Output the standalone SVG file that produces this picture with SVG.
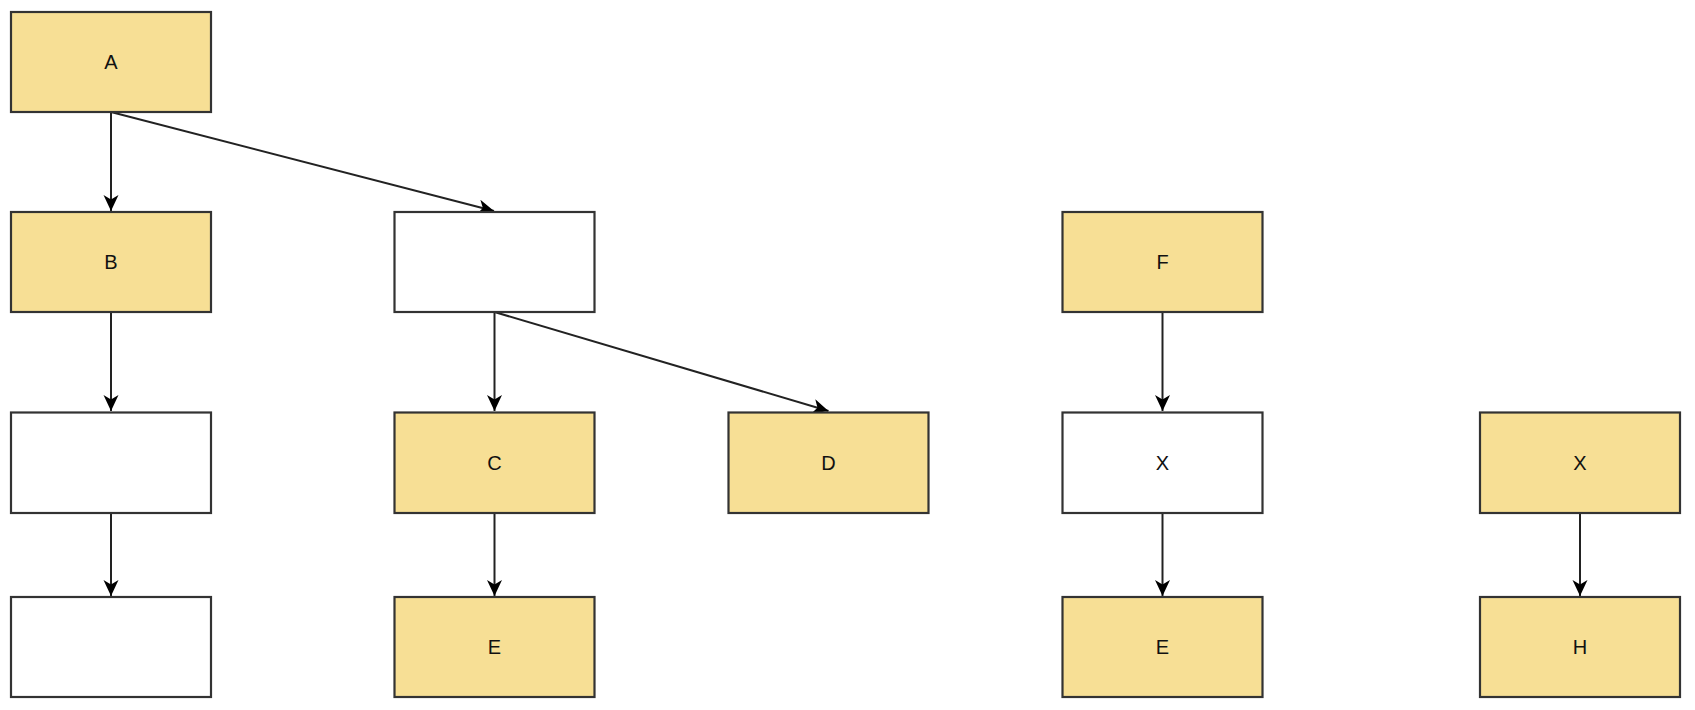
<svg xmlns="http://www.w3.org/2000/svg" width="1695" height="710" viewBox="0 0 1695 710">
<defs>
<marker id="arr" markerWidth="17" markerHeight="16" refX="16" refY="7.5" orient="auto" markerUnits="userSpaceOnUse">
<path d="M0,0 L16,7.5 L0,15 L4.5,7.5 Z" fill="#000"/>
</marker>
<style>
.y{fill:#f7df95;stroke:#333;stroke-width:2.2}
.w{fill:#fff;stroke:#333;stroke-width:2.2}
.t{font-family:"Liberation Sans",Arial,sans-serif;font-size:20px;fill:#111;text-anchor:middle;dominant-baseline:central}
.c{fill:none;stroke:#222;stroke-width:2;marker-end:url(#arr)}
</style>
</defs>
<rect width="1695" height="710" fill="#fff"/>
<g id="connectors">
<line class="c" x1="111" y1="112" x2="111" y2="211"/>
<line class="c" x1="111" y1="112" x2="494" y2="211"/>
<line class="c" x1="111" y1="312" x2="111" y2="411"/>
<line class="c" x1="111" y1="513" x2="111" y2="596"/>
<line class="c" x1="494.5" y1="312" x2="494.5" y2="411"/>
<line class="c" x1="494.5" y1="312" x2="828.5" y2="411"/>
<line class="c" x1="494.5" y1="513" x2="494.5" y2="596"/>
<line class="c" x1="1162.5" y1="312" x2="1162.5" y2="411"/>
<line class="c" x1="1162.5" y1="513" x2="1162.5" y2="596"/>
<line class="c" x1="1580" y1="513" x2="1580" y2="596"/>
</g>
<g id="nA"><rect class="y" x="11" y="12" width="200" height="100"/><text class="t" x="111" y="62">A</text></g>
<g id="nB"><rect class="y" x="11" y="212" width="200" height="100"/><text class="t" x="111" y="262">B</text></g>
<g id="nB2"><rect class="w" x="11" y="412.5" width="200" height="100.5"/></g>
<g id="nB3"><rect class="w" x="11" y="597" width="200" height="100"/></g>
<g id="nM"><rect class="w" x="394.5" y="212" width="200" height="100"/></g>
<g id="nC"><rect class="y" x="394.5" y="412.5" width="200" height="100.5"/><text class="t" x="494.5" y="463">C</text></g>
<g id="nE1"><rect class="y" x="394.5" y="597" width="200" height="100"/><text class="t" x="494.5" y="647">E</text></g>
<g id="nD"><rect class="y" x="728.5" y="412.5" width="200" height="100.5"/><text class="t" x="828.5" y="463">D</text></g>
<g id="nF"><rect class="y" x="1062.5" y="212" width="200" height="100"/><text class="t" x="1162.5" y="262">F</text></g>
<g id="nX1"><rect class="w" x="1062.5" y="412.5" width="200" height="100.5"/><text class="t" x="1162.5" y="463">X</text></g>
<g id="nE2"><rect class="y" x="1062.5" y="597" width="200" height="100"/><text class="t" x="1162.5" y="647">E</text></g>
<g id="nX2"><rect class="y" x="1480" y="412.5" width="200" height="100.5"/><text class="t" x="1580" y="463">X</text></g>
<g id="nH"><rect class="y" x="1480" y="597" width="200" height="100"/><text class="t" x="1580" y="647">H</text></g>
</svg>
